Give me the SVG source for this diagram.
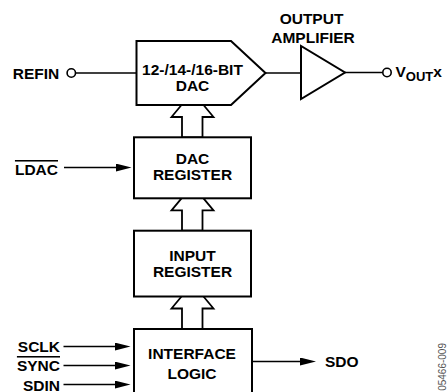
<svg xmlns="http://www.w3.org/2000/svg" width="447" height="392" viewBox="0 0 447 392">
<style>
  .box { fill: #fff; stroke: #000; stroke-width: 2; }
  .bus { fill: #fff; stroke: #000; stroke-width: 1.8; stroke-linejoin: miter; }
  .wire { fill: none; stroke: #000; stroke-width: 1.6; }
  .pin { fill: #fff; stroke: #000; stroke-width: 1.6; }
  .lbl { font-family: "Liberation Sans", Arial, sans-serif; font-weight: bold; font-size: 15.5px; fill: #000; }
  .mid { text-anchor: middle; }
  .end { text-anchor: end; }
  .ovl { text-decoration: overline; }
  .code { font-family: "Liberation Sans", Arial, sans-serif; font-size: 10px; fill: #555; }
</style>
<defs>
  <marker id="ah" viewBox="0 0 16 8" refX="6" refY="4" markerWidth="16" markerHeight="8" markerUnits="userSpaceOnUse" orient="auto">
    <path d="M0,0 L16,4 L0,8 Z" fill="#000"/>
  </marker>
</defs>

<g id="connectors">
  <line class="wire" x1="75.5" y1="73" x2="136.5" y2="73"/>
  <line class="wire" x1="265.5" y1="73" x2="301" y2="73"/>
  <line class="wire" x1="345" y1="72.5" x2="383" y2="72.5"/>
  <line class="wire" x1="64" y1="167.5" x2="121.5" y2="167.5" marker-end="url(#ah)"/>
  <line class="wire" x1="63.5" y1="346.5" x2="120.5" y2="346.5" marker-end="url(#ah)"/>
  <line class="wire" x1="63.5" y1="365.5" x2="120.5" y2="365.5" marker-end="url(#ah)"/>
  <line class="wire" x1="63.5" y1="384.5" x2="120.5" y2="384.5" marker-end="url(#ah)"/>
  <line class="wire" x1="252" y1="361.5" x2="306" y2="361.5" marker-end="url(#ah)"/>
  <path class="bus" d="M181.5,105 L171.5,117 L182,117 L182,137.3 L202.5,137.3 L202.5,117 L213.5,117 L203.5,105"/>
  <path class="bus" d="M181.5,198.3 L171.5,210.3 L182,210.3 L182,230.7 L202.5,230.7 L202.5,210.3 L213.5,210.3 L203.5,198.3"/>
  <path class="bus" d="M181.5,296.5 L171.5,308.5 L182,308.5 L182,329 L202.5,329 L202.5,308.5 L213.5,308.5 L203.5,296.5"/>
</g>

<g id="refin">
  <circle class="pin" cx="71.3" cy="73" r="4.2"/>
  <text class="lbl" x="12.7" y="79">REFIN</text>
</g>

<g id="dac">
  <path class="box" d="M136.5,41 L231,41 L265.5,73 L231,105 L136.5,105 Z"/>
  <text class="lbl mid" x="192.5" y="74.5" font-size="15">12-/14-/16-BIT</text>
  <text class="lbl mid" x="192.5" y="91" font-size="15">DAC</text>
</g>

<g id="amplifier">
  <path class="box" d="M301,46 L301,99 L345,72.5 Z"/>
  <text class="lbl mid" x="311.5" y="24">OUTPUT</text>
  <text class="lbl mid" x="313" y="43.3">AMPLIFIER</text>
</g>

<g id="vout">
  <circle class="pin" cx="387" cy="72.5" r="4.2"/>
  <text class="lbl" x="395.5" y="76.5">V<tspan font-size="13" dy="4.5">OUT</tspan><tspan dy="-4.5">x</tspan></text>
</g>

<g id="dac-register">
  <rect class="box" x="134" y="137.3" width="117" height="61"/>
  <text class="lbl mid" x="192.5" y="164">DAC</text>
  <text class="lbl mid" x="192.5" y="180">REGISTER</text>
</g>

<g id="ldac">
  <text class="lbl end ovl" x="58" y="175">LDAC</text>
</g>

<g id="input-register">
  <rect class="box" x="134" y="230.7" width="117" height="65.8"/>
  <text class="lbl mid" x="192.5" y="261">INPUT</text>
  <text class="lbl mid" x="192.5" y="277.3">REGISTER</text>
</g>

<g id="interface-logic">
  <rect class="box" x="134" y="329" width="118" height="80"/>
  <text class="lbl mid" x="192" y="359.3">INTERFACE</text>
  <text class="lbl mid" x="192" y="379.3">LOGIC</text>
</g>

<g id="serial-inputs">
  <text class="lbl end" x="60" y="352.3">SCLK</text>
  <text class="lbl end ovl" x="60" y="371">SYNC</text>
  <text class="lbl end" x="60" y="390.5">SDIN</text>
</g>

<g id="sdo">
  <text class="lbl" x="325" y="367">SDO</text>
</g>

<text class="code" transform="translate(446,343) rotate(-90)" text-anchor="end">05466-009</text>
</svg>
